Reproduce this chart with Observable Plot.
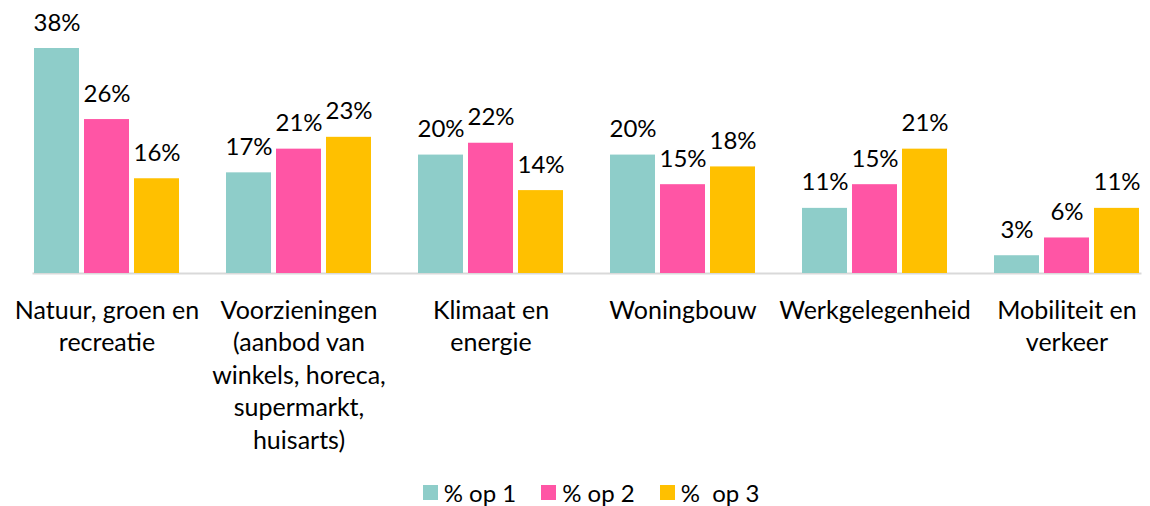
<!DOCTYPE html>
<html><head><meta charset="utf-8">
<script src="https://cdn.jsdelivr.net/npm/d3@7"></script>
<script src="https://cdn.jsdelivr.net/npm/@observablehq/plot@0.6"></script>
<style>
body{margin:0;background:#fff;font-family:Lato,sans-serif;width:1150px;}
#legend{display:flex;justify-content:center;align-items:center;height:28px;padding-left:32px;font-size:24px;color:#000;}
.item{display:flex;align-items:center;margin:0 12.5px;}
.sw{width:15px;height:15px;margin-right:6px;}
</style></head><body><div id="chart"></div><div id="legend"></div>
<script>
const categories = ["Natuur, groen en recreatie", "Voorzieningen (aanbod van winkels, horeca, supermarkt, huisarts)", "Klimaat en energie", "Woningbouw", "Werkgelegenheid", "Mobiliteit en verkeer"];
const tickLabels = ["Natuur, groen en\nrecreatie", "Voorzieningen\n(aanbod van\nwinkels, horeca,\nsupermarkt,\nhuisarts)", "Klimaat en\nenergie", "Woningbouw", "Werkgelegenheid", "Mobiliteit en\nverkeer"];
const seriesNames = ["% op 1", "% op 2", "%  op 3"];
const op1 = [38, 17, 20, 20, 11, 3];
const op2 = [26, 21, 22, 15, 15, 6];
const op3 = [16, 23, 14, 18, 21, 11];
const colors = ["#8ECDC9", "#FF55A5", "#FFC000"];

const seriesValues = [op1, op2, op3];
const rows = [];
categories.forEach((c, i) => seriesNames.forEach((s, j) => rows.push({cat: c, series: s, value: seriesValues[j][i]})));

const chart = Plot.plot({
  width: 1150, height: 478,
  marginLeft: 11, marginRight: 0, marginTop: 48, marginBottom: 205,
  style: {fontFamily: "Lato, sans-serif", fontSize: "24px", color: "#000", background: "#fff"},
  fx: {domain: categories, paddingInner: 0.232, paddingOuter: 0.0807, align: 0.71, label: null},
  x: {domain: seriesNames, paddingInner: 0.093, paddingOuter: 0, axis: null},
  y: {domain: [0, 38], axis: null},
  color: {domain: seriesNames, range: colors},
  marks: [
    Plot.frame({anchor: "bottom", facet: "super", stroke: "#d9d9d9", strokeWidth: 2}),
    Plot.barY(rows, {fx: "cat", x: "series", y: "value", fill: "series"}),
    Plot.text(rows, {fx: "cat", x: "series", y: "value", text: d => d.value + "%", lineAnchor: "bottom", dy: -18, fontSize: 24, fill: "#000"}),
    Plot.axisFx({anchor: "bottom", tickSize: 0, tickPadding: 22, fontSize: 25, lineHeight: 1.3, fill: "#000", tickFormat: c => tickLabels[categories.indexOf(c)], label: null})
  ]
});
document.getElementById("chart").appendChild(chart);

const legend = document.getElementById("legend");
seriesNames.forEach((s, i) => {
  const it = document.createElement("div");
  it.className = "item";
  const sw = document.createElement("span");
  sw.className = "sw";
  sw.style.background = colors[i];
  const t = document.createElement("span");
  t.textContent = s;
  t.style.whiteSpace = "pre";
  it.appendChild(sw); it.appendChild(t);
  legend.appendChild(it);
});
</script></body></html>
